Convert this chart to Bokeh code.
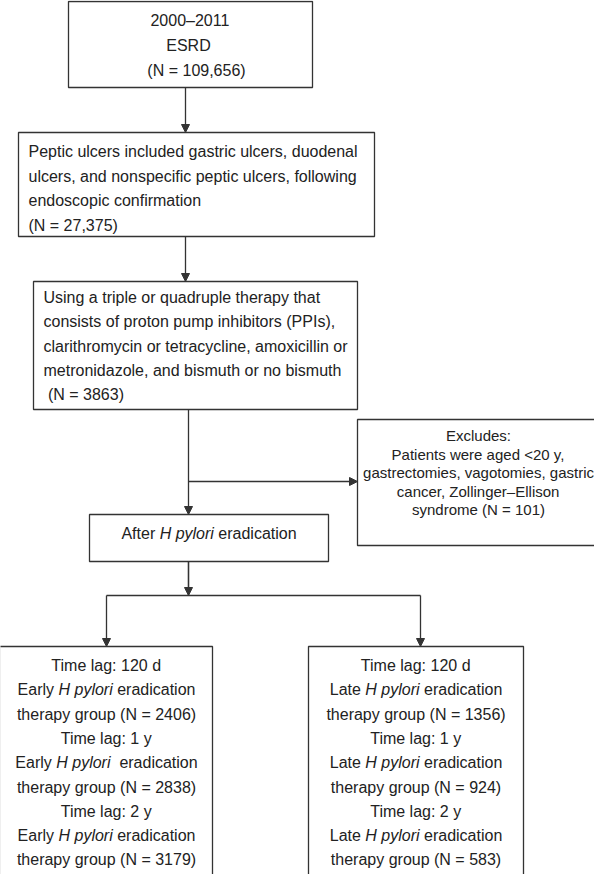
from bokeh.plotting import figure
from bokeh.models import Range1d, Arrow, NormalHead
from bokeh.embed import file_html
from bokeh.resources import INLINE
from bokeh.core.properties import value

# ---------------- data (texts and counts) ----------------
box1_lines = ["2000\u20132011", "ESRD", "(N = 109,656)"]
box2_lines = ["Peptic ulcers included gastric ulcers, duodenal",
              "ulcers, and nonspecific peptic ulcers, following",
              "endoscopic confirmation",
              "(N = 27,375)"]
box3_lines = ["Using a triple or quadruple therapy that",
              "consists of proton pump inhibitors (PPIs),",
              "clarithromycin or tetracycline, amoxicillin or",
              "metronidazole, and bismuth or no bismuth",
              " (N = 3863)"]
excl_lines = ["Excludes:",
              "Patients were aged <20 y,",
              "gastrectomies, vagotomies, gastric",
              "cancer, Zollinger\u2013Ellison",
              "syndrome (N = 101)"]
box4_lines = ["After *H pylori* eradication"]
time_lags = ["120 d", "1 y", "2 y"]
early_n = [2406, 2838, 3179]
late_n = [1356, 924, 583]
early_label = ["Early *H pylori* eradication", "Early *H pylori*  eradication", "Early *H pylori* eradication"]
late_label = ["Late *H pylori* eradication", "Late *H pylori* eradication", "Late *H pylori* eradication"]

# ---------------- styles ----------------
FONT = "Liberation Sans"
TXT = "#222222"
LINE = "#333333"
LW = 1.3

# Arial / Liberation Sans advance widths (per 1000 em)
_W = {' ': 278, '(': 333, ')': 333, ',': 278, '-': 333, '.': 278, ':': 278, '<': 584, '=': 584,
      '\u2013': 556}
for c in "0123456789":
    _W[c] = 556
for c, w in zip("ABCDEFGHIJKLMNOPQRSTUVWXYZ",
                [667, 667, 722, 722, 667, 611, 778, 722, 278, 500, 667, 556, 833, 722, 778, 667, 778,
                 722, 667, 611, 722, 667, 944, 667, 667, 611]):
    _W[c] = w
for c, w in zip("abcdefghijklmnopqrstuvwxyz",
                [556, 556, 500, 556, 556, 278, 556, 556, 222, 222, 500, 222, 833, 556, 556, 556, 556,
                 333, 500, 278, 556, 500, 722, 500, 500, 500]):
    _W[c] = w


def tw(s, fs):
    return sum(_W.get(c, 556) for c in s) * fs / 1000.0


p = figure(width=594, height=874, x_range=Range1d(8, 602), y_range=Range1d(882, 8),
           output_backend="svg", toolbar_location=None, min_border=0)
p.axis.visible = False
p.grid.visible = False
p.outline_line_color = None
p.background_fill_color = "white"

# ---------------- boxes ----------------
boxes = dict(
    left=[76, 26, 41, 365, 97, 7, 316],
    right=[320, 382, 365, 640, 336, 220, 531],
    top=[9, 140, 289, 427, 522, 654, 654],
    bottom=[95, 244, 417, 553, 569, 900, 900],
)
p.quad(left=boxes["left"], right=boxes["right"], top=boxes["top"], bottom=boxes["bottom"],
       fill_color="white", line_color=LINE, line_width=LW)

# ---------------- connectors ----------------
p.segment(x0=[196, 114], y0=[569, 603], x1=[196, 428], y1=[603, 603], line_color=LINE, line_width=LW)


def arrow(x0, y0, x1, y1):
    p.add_layout(Arrow(end=NormalHead(size=8, fill_color=LINE, line_color=LINE, line_width=1),
                       x_start=x0, y_start=y0, x_end=x1, y_end=y1,
                       line_color=LINE, line_width=LW))


arrow(193, 95, 193, 140)
arrow(193, 244, 193, 289)
arrow(196, 417, 196, 522)
arrow(196, 489, 365, 489)
arrow(196, 569, 196, 603)
arrow(114, 603, 114, 654)
arrow(428, 603, 428, 654)

# ---------------- texts ----------------
segs = {}


def add_seg(st, fs, x, y, t):
    d = segs.setdefault((st, fs), dict(x=[], y=[], t=[]))
    d["x"].append(x)
    d["y"].append(y)
    d["t"].append(t)


def put_line(line, x, y, align, fs):
    parts = line.split("*")
    total = sum(tw(s, fs) for s in parts)
    cur = x - total / 2.0 if align == "center" else x
    for i, s in enumerate(parts):
        st = "italic" if i % 2 == 1 else "normal"
        lead = len(s) - len(s.lstrip(" "))
        body = s.strip(" ")
        if body:
            add_seg(st, fs, cur + tw(s[:lead], fs), y, body)
        cur += tw(s, fs)


def put_block(lines, xs, y0, dy, align, fs=16):
    if not isinstance(xs, (list, tuple)):
        xs = [xs] * len(lines)
    for i, ln in enumerate(lines):
        put_line(ln, xs[i], y0 + i * dy, align, fs)


put_block(box1_lines, [198, 196, 204], 28, 25, "center")
put_block(box2_lines, 36, 159, 24.6, "left")
put_block(box3_lines, 51, 305, 24.3, "left")
put_block(excl_lines, 486, 443, 18.6, "center", fs=15)
put_block(box4_lines, 216.5, 541, 24, "center")

early_lines, late_lines = [], []
for lag, en, ln, el, ll in zip(time_lags, early_n, late_n, early_label, late_label):
    early_lines += ["Time lag: " + lag, el, "therapy group (N = %d)" % en]
    late_lines += ["Time lag: " + lag, ll, "therapy group (N = %d)" % ln]
put_block(early_lines, 114, 673, 24.3, "center")
put_block(late_lines, 423.5, 673, 24.3, "center")

for (st, fs), d in segs.items():
    p.text(x=d["x"], y=d["y"], text=d["t"], text_font=value(FONT), text_font_size="%dpx" % fs,
           text_font_style=st, text_color=TXT, text_align="left", text_baseline="middle")

open("out.html", "w").write(file_html(p, INLINE))
